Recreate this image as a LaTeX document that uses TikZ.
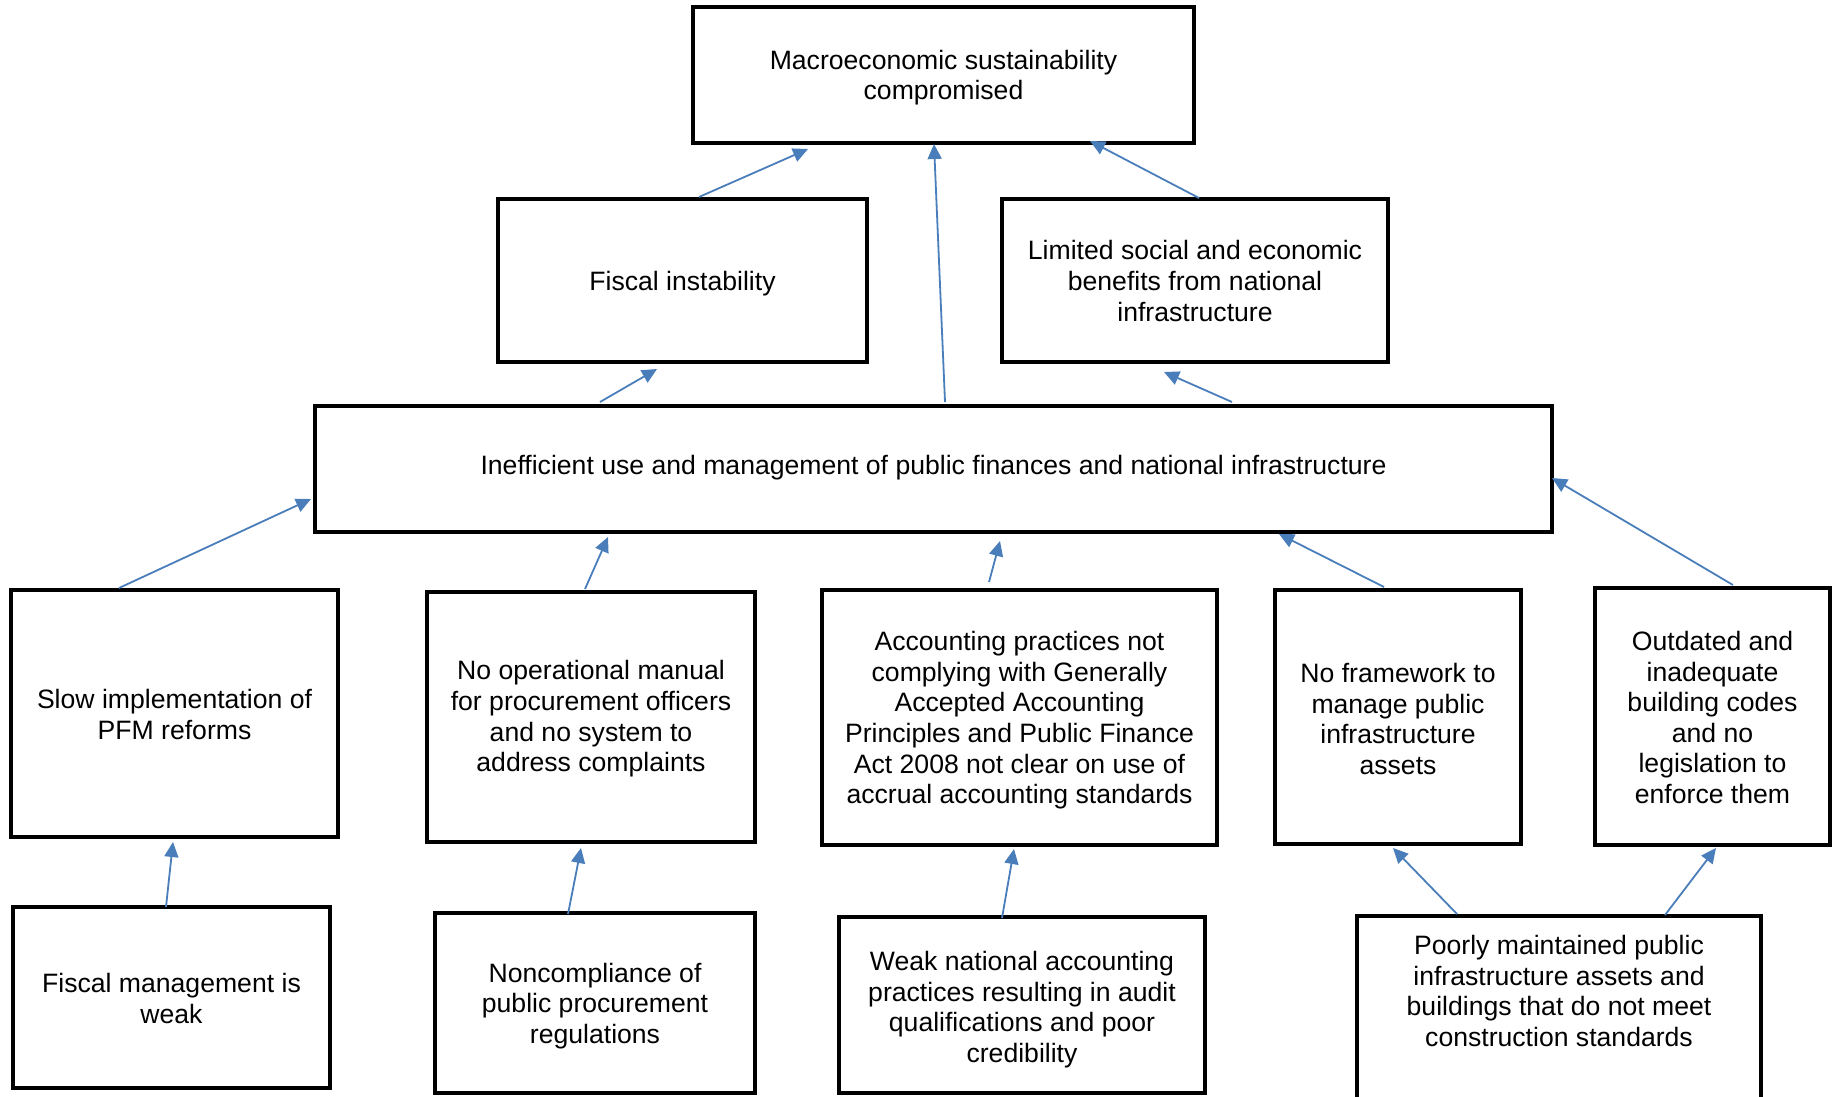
\documentclass[tikz,border=0pt]{standalone}
\usepackage{fontspec}
\setmainfont{Liberation Sans}
\usetikzlibrary{arrows.meta,calc}
\definecolor{arrblue}{RGB}{74,126,187}
\newcommand\firstrow[1]{\rule{0pt}{#1}}
\tikzset{
  box/.style={draw=black, line width=4pt, align=center, inner sep=0pt, outer sep=0pt, fill=white,
    font=\fontsize{26.6pt}{30.6pt}\selectfont},
  txt/.style={align=center, inner sep=0pt, font=\fontsize{26.6pt}{30.6pt}\selectfont},
  arr/.style={draw=arrblue, line width=1.8pt, -{Triangle[length=15pt,width=14pt]}}
}
\begin{document}
\begin{tikzpicture}[x=1pt,y=-1pt]
\useasboundingbox (0,0) rectangle (1833,1096);
% level 1
\node[box, minimum width=501pt, minimum height=136pt] (top) at (943.5,75) {\firstrow{24.8pt}Macroeconomic sustainability\\compromised};
% level 2
\node[box, minimum width=369pt, minimum height=163pt] (fiscal) at (682.5,280.5) {\firstrow{26pt}Fiscal instability};
\node[box, minimum width=386pt, minimum height=163pt] (limited) at (1195,280.5) {\firstrow{20.2pt}Limited social and economic\\benefits from national\\infrastructure};
% level 3
\node[box, minimum width=1237pt, minimum height=126pt] (ineff) at (933.5,469) {};
\node[txt] (inefftext) at (933.5,467.5) {Inefficient use and management of public finances and national infrastructure};
% level 4
\node[box, minimum width=327pt, minimum height=247pt] (slow) at (174.5,713.5) {\firstrow{21.4pt}Slow implementation of\\PFM reforms};
\node[box, minimum width=328pt, minimum height=250pt] (noop) at (591,717) {\firstrow{23pt}No operational manual\\for procurement officers\\and no system to\\address complaints};
\node[box, minimum width=395pt, minimum height=255pt] (acc) at (1019.5,717.5) {\firstrow{25pt}Accounting practices not\\complying with Generally\\Accepted Accounting\\Principles and Public Finance\\Act 2008 not clear on use of\\accrual accounting standards};
\node[box, minimum width=246pt, minimum height=254pt] (frame) at (1398,717) {\firstrow{23.6pt}No framework to\\manage public\\infrastructure\\assets};
\node[box, minimum width=235pt, minimum height=257pt] (outd) at (1712.5,716.5) {\firstrow{21.4pt}Outdated and\\inadequate\\building codes\\and no\\legislation to\\enforce them};
% level 5
\node[box, minimum width=317pt, minimum height=181pt] (fmgmt) at (171.5,997.5) {\firstrow{21.4pt}Fiscal management is\\weak};
\node[box, minimum width=320pt, minimum height=180pt] (nonc) at (595,1003) {\firstrow{24.8pt}Noncompliance of\\public procurement\\regulations};
\node[box, minimum width=366pt, minimum height=176pt] (weak) at (1022,1005) {\firstrow{28.4pt}Weak national accounting\\practices resulting in audit\\qualifications and poor\\credibility};
\node[box, minimum width=404pt, minimum height=184pt] (poorly) at (1559,1008) {};
\node[txt] (poorlytext) at (1559,991) {Poorly maintained public\\infrastructure assets and\\buildings that do not meet\\construction standards};
% connectors
\draw[arr] ($(fiscal.north)+(16.5,-2)$) -- ($(top.south)+(-135.5,6)$);
\draw[arr] ($(ineff.north)+(11.5,-4)$) -- ($(top.south)+(-9.5,1)$);
\draw[arr] ($(limited.north)+(4,-1)$) -- ($(top.south)+(146.5,-2)$);
\draw[arr] ($(ineff.north)+(-333.5,-4)$) -- ($(fiscal.south)+(-25.5,7)$);
\draw[arr] ($(ineff.north)+(298.5,-4)$) -- ($(limited.south)+(-31,10)$);
\draw[arr] ($(slow.north)+(-55.5,-2)$) -- ($(ineff.west)+(-4,30)$);
\draw[arr] ($(noop.north)+(-6,-3)$) -- ($(ineff.south)+(-325.5,5)$);
\draw[arr] ($(acc.north)+(-30.5,-8)$) -- ($(ineff.south)+(66.5,9)$);
\draw[arr] ($(frame.north)+(-14,-3)$) -- ($(ineff.south)+(345.5,2)$);
\draw[arr] ($(outd.north)+(20.5,-3)$) -- ($(ineff.east)+(0,9)$);
\draw[arr] ($(fmgmt.north)+(-5.5,0)$) -- ($(slow.south)+(-1.5,5)$);
\draw[arr] ($(nonc.north)+(-27,1)$) -- ($(noop.south)+(-10,6)$);
\draw[arr] ($(weak.north)+(-20,1)$) -- ($(acc.south)+(-5.5,4)$);
\draw[arr] ($(poorly.north)+(-102,-2)$) -- ($(frame.south)+(-5,4)$);
\draw[arr] ($(poorly.north)+(106,-1)$) -- ($(outd.south)+(3.5,3)$);
\end{tikzpicture}
\end{document}
